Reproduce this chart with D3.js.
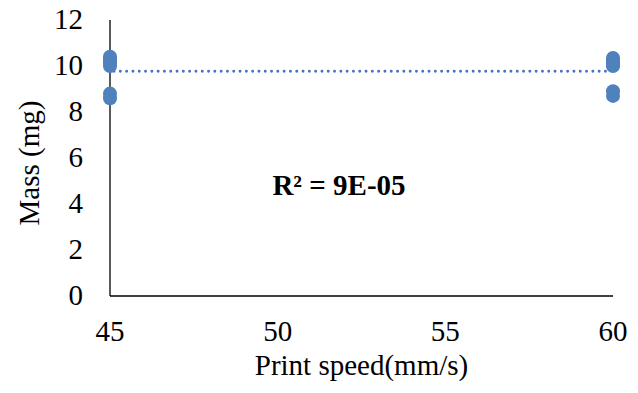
<!DOCTYPE html>
<html>
<head>
<meta charset="utf-8">
<script src="https://cdn.jsdelivr.net/npm/d3@7"></script>
<style>
  body { margin: 0; background: #fff; }
</style>
</head>
<body>
<div id="chart"></div>
<script>
// print speed (mm/s) and measured mass (mg)
var speed = [45, 45, 45, 45, 45, 45, 45, 60, 60, 60, 60, 60, 60, 60];
var mass = [10.4, 10.3, 10.2, 10.1, 10.0, 8.8, 8.6,
            10.35, 10.25, 10.15, 10.05, 10.0, 8.9, 8.7];
var xTicks = [45, 50, 55, 60];
var yTicks = [0, 2, 4, 6, 8, 10, 12];
var r2Label = "R² = 9E-05";

var W = 638, H = 393;
var margin = {top: 20, right: 25, bottom: 97, left: 110};
var font = "'Liberation Serif', 'Times New Roman', 'DejaVu Serif', serif";
var fs = "29px";

var svg = d3.select("#chart").append("svg")
  .attr("width", W).attr("height", H)
  .attr("font-family", font);

var x = d3.scaleLinear().domain([45, 60]).range([margin.left, W - margin.right]);
var y = d3.scaleLinear().domain([0, 12]).range([H - margin.bottom, margin.top]);

// axes lines (no tick marks)
svg.append("line")
  .attr("x1", x(45)).attr("x2", x(45))
  .attr("y1", y(12)).attr("y2", y(0))
  .attr("stroke", "#000").attr("stroke-width", 1.3);
svg.append("line")
  .attr("x1", x(45)).attr("x2", x(60))
  .attr("y1", y(0)).attr("y2", y(0))
  .attr("stroke", "#000").attr("stroke-width", 1.3);

// y tick labels
svg.selectAll(".ylab").data(yTicks).enter().append("text")
  .attr("x", 83)
  .attr("y", function(d) { return y(d) + 9; })
  .attr("text-anchor", "end")
  .style("font-size", fs)
  .text(function(d) { return d; });

// x tick labels
svg.selectAll(".xlab").data(xTicks).enter().append("text")
  .attr("x", function(d) { return x(d); })
  .attr("y", 341)
  .attr("text-anchor", "middle")
  .style("font-size", fs)
  .text(function(d) { return d; });

// axis titles
svg.append("text")
  .attr("x", (x(45) + x(60)) / 2)
  .attr("y", 375)
  .attr("text-anchor", "middle")
  .style("font-size", fs)
  .text("Print speed(mm/s)");

svg.append("text")
  .attr("transform", "translate(39,163) rotate(-90)")
  .attr("text-anchor", "middle")
  .style("font-size", fs)
  .text("Mass (mg)");

// linear trendline
var mx = d3.mean(speed), my = d3.mean(mass);
var sxy = d3.sum(speed, function(s, i) { return (s - mx) * (mass[i] - my); });
var sxx = d3.sum(speed, function(s) { return (s - mx) * (s - mx); });
var slope = sxy / sxx, icpt = my - slope * mx;

svg.append("line")
  .attr("x1", x(45) + 4).attr("x2", x(60) - 4)
  .attr("y1", y(icpt + slope * 45)).attr("y2", y(icpt + slope * 60))
  .attr("stroke", "#4472c4")
  .attr("stroke-width", 2.8)
  .attr("stroke-linecap", "round")
  .attr("stroke-dasharray", "0.1,6.2");

// points
svg.selectAll(".pt").data(mass).enter().append("circle")
  .attr("cx", function(d, i) { return x(speed[i]); })
  .attr("cy", function(d) { return y(d); })
  .attr("r", 7)
  .attr("fill", "#4f81bd");

svg.append("text")
  .attr("x", 339)
  .attr("y", 195)
  .attr("text-anchor", "middle")
  .style("font-size", fs)
  .style("font-weight", "bold")
  .text(r2Label);
</script>
</body>
</html>
